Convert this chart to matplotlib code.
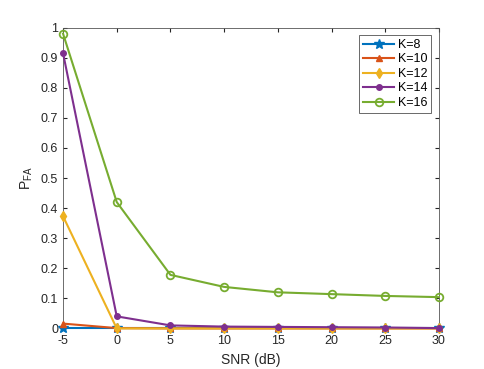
import numpy as np
import matplotlib.pyplot as plt

plt.rcParams['font.family'] = ['Liberation Sans', 'DejaVu Sans']
plt.rcParams['axes.unicode_minus'] = False

snr = [-5, 0, 5, 10, 15, 20, 25, 30]
k8 = [0.0, 0.0, 0.0, 0.0, 0.0, 0.0, 0.0, 0.0]
k10 = [0.016, 0.001, 0.0, 0.0, 0.0, 0.0, 0.0, 0.0]
k12 = [0.373, 0.0, 0.0, 0.0, 0.0, 0.0, 0.0, 0.0]
k14 = [0.915, 0.04, 0.01, 0.006, 0.005, 0.004, 0.003, 0.001]
k16 = [0.98, 0.42, 0.178, 0.138, 0.12, 0.114, 0.108, 0.104]
labels = ['K=8', 'K=10', 'K=12', 'K=14', 'K=16']

fig = plt.figure(figsize=(4.85, 3.69), dpi=100)
ax = fig.add_axes([0.13, 0.11, 0.775, 0.815])

ax.plot(snr, k8, marker='*', ls='-', color='#0072BD', lw=1.5, ms=7, label=labels[0], clip_on=False, zorder=3)
ax.plot(snr, k10, marker='^', ls='-', color='#D95319', lw=1.5, ms=5, label=labels[1], clip_on=False, zorder=3)
ax.plot(snr, k12, marker='d', ls='-', color='#EDB120', lw=1.5, ms=5, label=labels[2], clip_on=False, zorder=3)
ax.plot(snr, k14, marker='.', ls='-', color='#7E2F8E', lw=1.5, ms=8, label=labels[3], clip_on=False, zorder=3)
ax.plot(snr, k16, marker='o', ls='-', color='#77AC30', lw=1.5, ms=5.5, mfc='none', mew=1.3,
        label=labels[4], clip_on=False, zorder=3)

ax.set_xlim(-5, 30)
ax.set_ylim(0, 1)
ax.set_xticks(snr)
ax.set_yticks(np.arange(0, 1.01, 0.1))
ax.set_yticklabels(['0', '0.1', '0.2', '0.3', '0.4', '0.5', '0.6', '0.7', '0.8', '0.9', '1'])
ax.tick_params(direction='in', top=True, right=True, labelsize=9, colors='#262626', length=3)
ax.tick_params(axis='x', pad=5)
for s in ax.spines.values():
    s.set_color('#555555')
    s.set_linewidth(0.6)
ax.set_xlabel('SNR (dB)', fontsize=10, color='#262626')
ax.set_ylabel('P$_{\\mathregular{FA}}$', fontsize=10, color='#262626')

leg = ax.legend(loc='upper right', fontsize=9, fancybox=False, edgecolor='#262626',
                handlelength=2.5, borderpad=0.3, labelspacing=0.2, handletextpad=0.3,
                borderaxespad=0.6)
leg.get_frame().set_linewidth(0.6)

fig.savefig('out.png', dpi=100)
